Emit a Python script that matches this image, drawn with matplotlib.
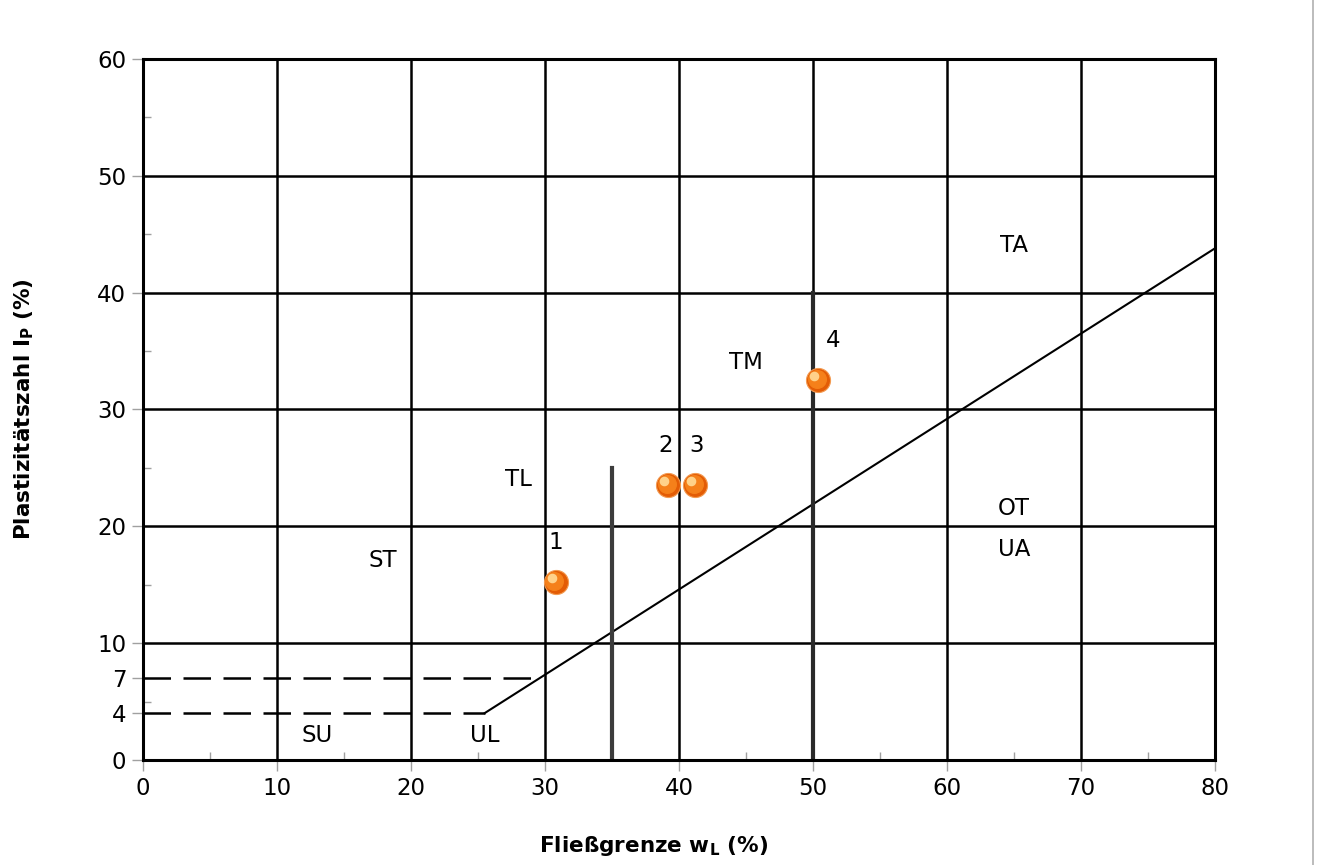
import numpy as np
import matplotlib.pyplot as plt
from matplotlib.lines import Line2D

# sample points (liquid limit wL, plasticity index Ip)
sample_ids = ['1', '2', '3', '4']
w_l = [30.8, 39.2, 41.2, 50.4]
i_p = [15.2, 23.5, 23.5, 32.5]

# A-line  Ip = 0.73 * (wL - 20), starting at Ip = 4
a_line_w = [25.5, 80]
a_line_ip = [0.73 * (w - 20) for w in a_line_w]

# region names and where they sit
zone_names = ['SU', 'UL', 'ST', 'TL', 'TM', 'TA', 'OT', 'UA']
zone_x = [13.0, 25.5, 17.9, 28.0, 45.0, 65.0, 65.0, 65.0]
zone_y = [2.1, 2.1, 17.1, 24.0, 34.0, 44.0, 21.5, 18.0]

y_ticks = [0, 4, 7, 10, 20, 30, 40, 50, 60]
x_ticks = [0, 10, 20, 30, 40, 50, 60, 70, 80]

plt.rcParams['font.family'] = ['DejaVu Sans']

fig = plt.figure(figsize=(13.18, 8.65), dpi=100)
ax = fig.add_axes([0.1085, 0.1214, 0.8134, 0.8104])
ax.set_xlim(0, 80)
ax.set_ylim(0, 60)

# grid
for gx in range(10, 80, 10):
    ax.plot([gx, gx], [0, 60], color='black', lw=1.8, zorder=1)
for gy in range(10, 60, 10):
    ax.plot([0, 80], [gy, gy], color='black', lw=1.8, zorder=1)

# dashed lines at Ip = 4 and 7
ax.plot([0, 25.5], [4, 4], color='black', lw=1.8, dashes=(11, 5), zorder=2)
ax.plot([0, 29.0], [7, 7], color='black', lw=1.8, dashes=(11, 5), zorder=2)

# A-line
ax.plot(a_line_w, a_line_ip, color='black', lw=1.5, zorder=3)

# wL = 35 and wL = 50 borders
ax.plot([35, 35], [0, 25], color='#3c3c3c', lw=3, zorder=3)
ax.plot([50, 50], [0, 40], color='#2a2a2a', lw=3, zorder=3)

# samples as orange balls
ax.scatter(w_l, i_p, s=300, marker='o', color='#e35c05', edgecolor='#f39a50',
           linewidth=0.8, zorder=5)
ax.scatter([w - 0.1 for w in w_l], [p + 0.1 for p in i_p], s=160,
           marker='o', color='#f5801a', zorder=6)
ax.scatter([w - 0.3 for w in w_l], [p + 0.35 for p in i_p], s=35,
           marker='o', color='#ffd28a', zorder=7)
label_dx = [0.0, -0.2, 0.1, 1.1]
for sid, x, y, dx in zip(sample_ids, w_l, i_p, label_dx):
    ax.text(x + dx, y + 3.4, sid, fontsize=16.5,
            ha='center', va='center', zorder=8)

for name, x, y in zip(zone_names, zone_x, zone_y):
    ax.text(x, y, name, fontsize=16.5, ha='center', va='center')

for sp in ax.spines.values():
    sp.set_linewidth(2.2)
    sp.set_color('black')
    sp.set_zorder(4)

ax.set_xticks(x_ticks)
ax.set_yticks(y_ticks)
ax.set_xticks(np.arange(5, 80, 10), minor=True)
ax.set_yticks(np.arange(5, 60, 10), minor=True)
ax.tick_params(which='major', direction='out', length=8, width=1,
               color='#a0a0a0', labelsize=16.5, pad=4)
ax.tick_params(which='minor', direction='in', length=6, width=1,
               color='#a0a0a0')

ax.set_xlabel('Fließgrenze w$_\\mathregular{L}$ (%)', fontsize=15.5,
              fontweight='bold')
ax.set_ylabel('Plastizitätszahl I$_\\mathregular{P}$ (%)', fontsize=15.5,
              fontweight='bold')
ax.xaxis.set_label_coords(0.476, -0.106)
ax.yaxis.set_label_coords(-0.100, 0.5)

# page border on the right
fig.add_artist(Line2D([0.9962, 0.9962], [0, 1], color='#b0b0b0', lw=1.2))

fig.savefig('out.png', dpi=100)
